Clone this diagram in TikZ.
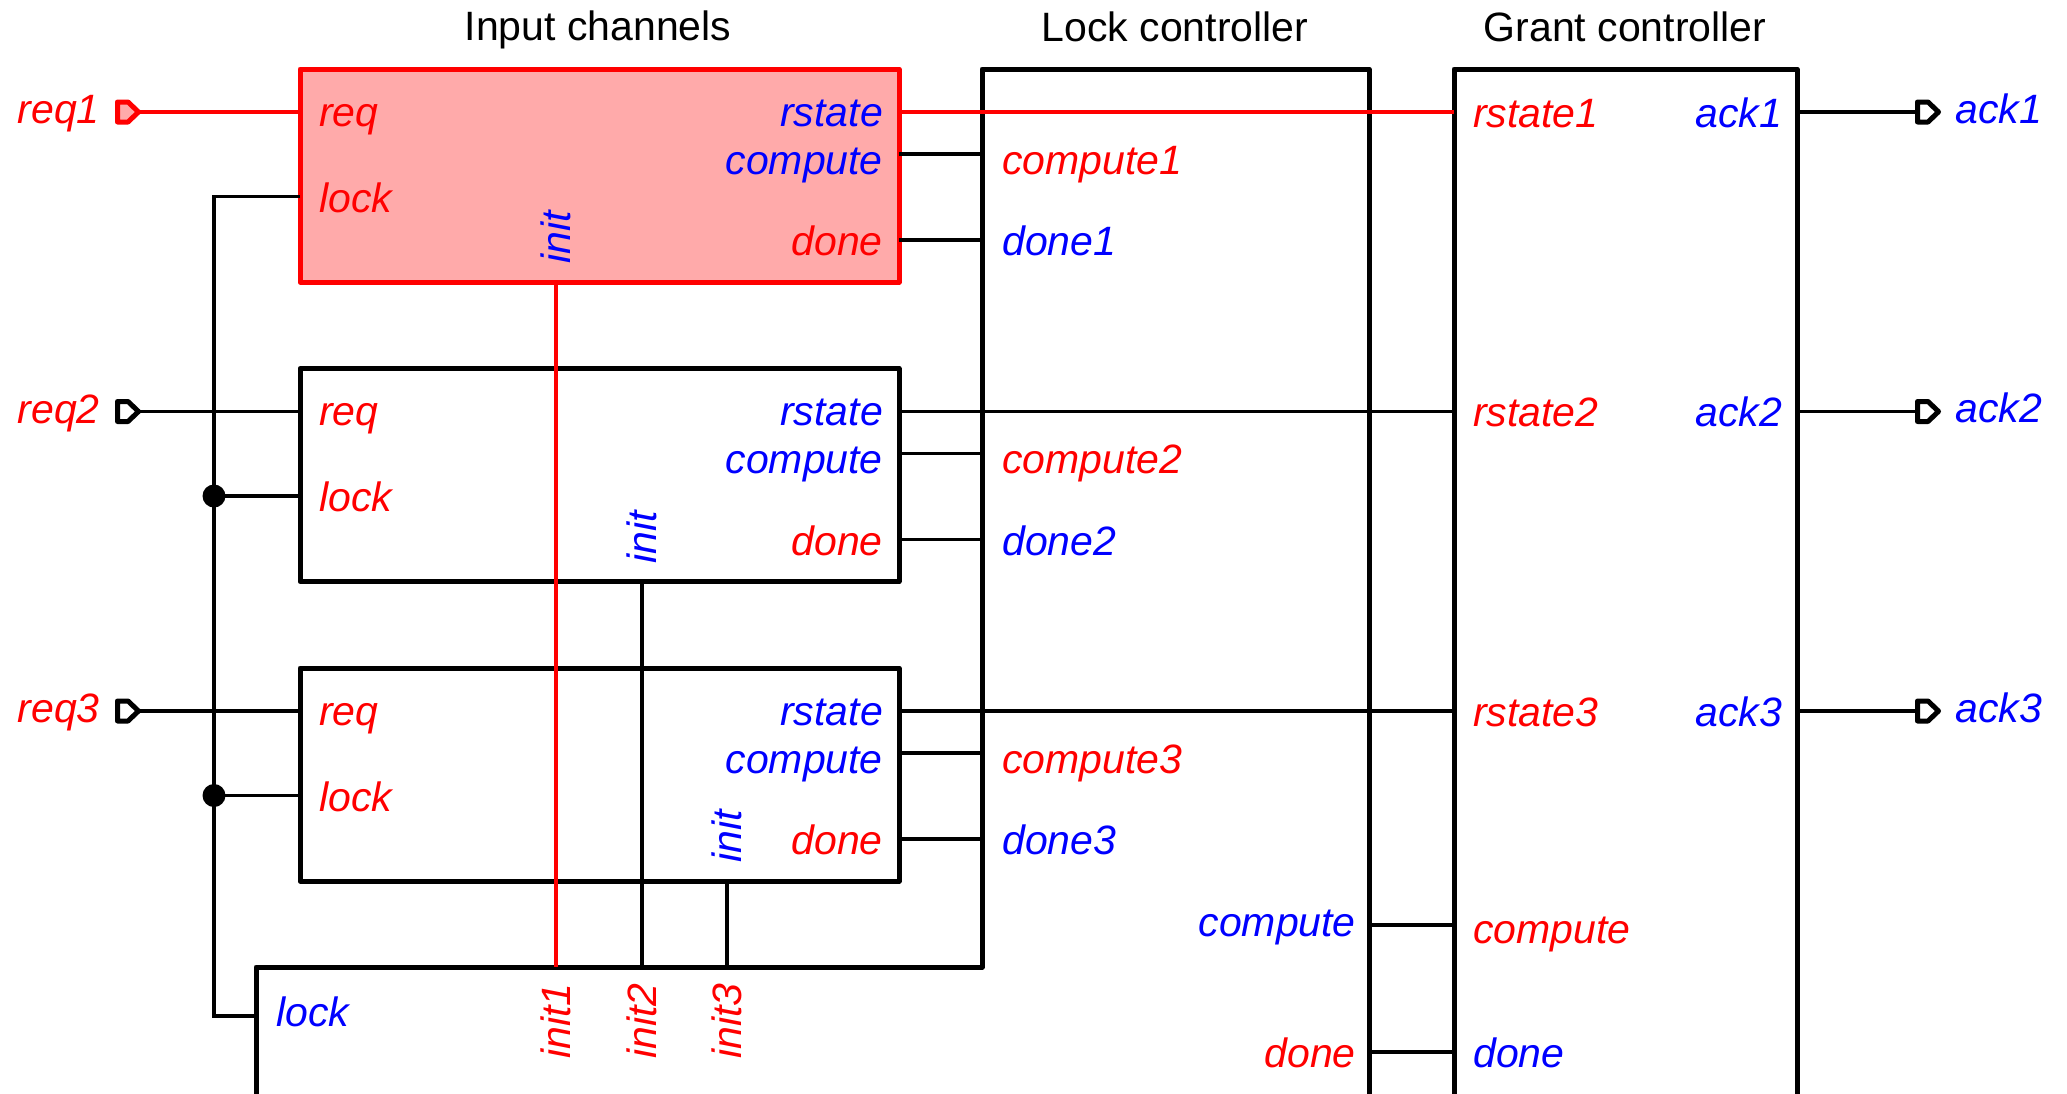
\documentclass[tikz,border=0pt]{standalone}
\usepackage{fontspec}
\setmainfont{Liberation Sans}
\definecolor{sred}{RGB}{255,0,0}
\definecolor{sblue}{RGB}{0,0,255}
\definecolor{spink}{RGB}{255,170,170}
\begin{document}
\begin{tikzpicture}[x=1pt,y=-1pt,
  boxline/.style={line width=5pt, line join=round},
  wire/.style={line width=3.8pt},
  lbl/.style={inner sep=0pt, font=\fontsize{41}{49}\selectfont\itshape},
  rl/.style={lbl, text=sred},
  bl/.style={lbl, text=sblue},
  ttl/.style={inner sep=0pt, font=\fontsize{41}{49}\selectfont, anchor=base},
  portline/.style={line width=5pt, line join=round, draw=black, fill=white},
  jdot/.style={circle, fill=black, inner sep=0pt, minimum size=23pt},
  chbox/.style={boxline, draw, minimum width=599pt, minimum height=213pt, inner sep=0pt}]
\clip (0,0) rectangle (2067,1093);
\fill[white] (0,0) rectangle (2067,1093);

% titles
\node[ttl] (t1) at (598,40) {Input channels};
\node[ttl] (t2) at (1175,41) {Lock controller};
\node[ttl] (t3) at (1625,41) {Grant controller};

% channel boxes
\node[chbox, draw=sred, fill=spink] (ch1) at (599.5,175.5) {};
\node[chbox] (ch2) at (599.5,475) {};
\node[chbox] (ch3) at (599.5,774.5) {};

% lock controller (L-shape) and grant controller
\draw[boxline] (982,967) -- (982,69) -- (1369,69) -- (1369,1150) -- (256,1150) -- (256,967) -- cycle;
\draw[boxline] (1454,1150) -- (1454,69) -- (1797,69) -- (1797,1150);

% coordinates
\coordinate (c1req) at (300,112);   \coordinate (c1lock) at (300,196.5);
\coordinate (c1rs) at (899,112);    \coordinate (c1cp) at (899,154);   \coordinate (c1dn) at (899,240);
\coordinate (c1init) at (556,282);
\coordinate (c2req) at (300,411.5); \coordinate (c2lock) at (300,496);
\coordinate (c2rs) at (899,411.5);  \coordinate (c2cp) at (899,453.5); \coordinate (c2dn) at (899,539.5);
\coordinate (c2init) at (642,581.5);
\coordinate (c3req) at (300,711);   \coordinate (c3lock) at (300,795.5);
\coordinate (c3rs) at (899,711);    \coordinate (c3cp) at (899,753);   \coordinate (c3dn) at (899,839);
\coordinate (c3init) at (727,881);

\coordinate (lc1cp) at (982,154);   \coordinate (lc1dn) at (982,240);
\coordinate (lc2cp) at (982,453.5); \coordinate (lc2dn) at (982,539.5);
\coordinate (lc3cp) at (982,753);   \coordinate (lc3dn) at (982,839);
\coordinate (lci1) at (556,967); \coordinate (lci2) at (642,967); \coordinate (lci3) at (727,967);
\coordinate (lclock) at (256,1016);
\coordinate (lccp) at (1369,925); \coordinate (lcdn) at (1369,1052);

\coordinate (g1) at (1454,112); \coordinate (g2) at (1454,411.5); \coordinate (g3) at (1454,711);
\coordinate (gcp) at (1454,925); \coordinate (gdn) at (1454,1052);
\coordinate (ga1) at (1797,112); \coordinate (ga2) at (1797,411.5); \coordinate (ga3) at (1797,711);

\coordinate (bus1) at (214,196.5); \coordinate (bus2) at (214,496);
\coordinate (bus3) at (214,795.5); \coordinate (busb) at (214,1016);

% ports (west end and tip)
\coordinate (p1) at (117.5,112);   \coordinate (p1t) at (138.5,112);
\coordinate (p2) at (117.5,411.5); \coordinate (p2t) at (138.5,411.5);
\coordinate (p3) at (117.5,711);   \coordinate (p3t) at (138.5,711);
\coordinate (q1) at (1917.5,112);   \coordinate (q1t) at (1938.5,112);
\coordinate (q2) at (1917.5,411.5); \coordinate (q2t) at (1938.5,411.5);
\coordinate (q3) at (1917.5,711);   \coordinate (q3t) at (1938.5,711);

% wires
\draw[wire, sred] (p1t) -- (c1req);
\draw[wire] (p2t) -- (c2req);
\draw[wire] (p3t) -- (c3req);
\draw[wire] (c1lock) -- (bus1) -- (busb) -- (lclock);
\draw[wire] (bus2) -- (c2lock);
\draw[wire] (bus3) -- (c3lock);
\node[jdot] (d2) at (bus2) {};
\node[jdot] (d3) at (bus3) {};

\draw[wire, sred] (c1rs) -- (g1);
\draw[wire] (c2rs) -- (g2);
\draw[wire] (c3rs) -- (g3);
\draw[wire] (c1cp) -- (lc1cp); \draw[wire] (c1dn) -- (lc1dn);
\draw[wire] (c2cp) -- (lc2cp); \draw[wire] (c2dn) -- (lc2dn);
\draw[wire] (c3cp) -- (lc3cp); \draw[wire] (c3dn) -- (lc3dn);
\draw[wire, sred] (c1init) -- (lci1);
\draw[wire] (c2init) -- (lci2);
\draw[wire] (c3init) -- (lci3);
\draw[wire] (lccp) -- (gcp);
\draw[wire] (lcdn) -- (gdn);
\draw[wire] (ga1) -- (q1);
\draw[wire] (ga2) -- (q2);
\draw[wire] (ga3) -- (q3);

% port symbols
\draw[portline, draw=sred, fill=spink] ([shift={(0,-10)}]p1) -- ([shift={(10.5,-10)}]p1) -- (p1t) -- ([shift={(10.5,10)}]p1) -- ([shift={(0,10)}]p1) -- cycle;
\foreach \p in {p2,p3,q1,q2,q3} {
  \draw[portline] ([shift={(0,-10)}]\p) -- ([shift={(10.5,-10)}]\p) -- (\p t) -- ([shift={(10.5,10)}]\p) -- ([shift={(0,10)}]\p) -- cycle;
}

% channel labels
\node[rl, anchor=base west] (l1a) at (319,126) {req};
\node[rl, anchor=base west] (l1b) at (319,212) {lock};
\node[bl, anchor=base east] (l1c) at (883,126) {rstate};
\node[bl, anchor=base east] (l1d) at (883,174) {compute};
\node[rl, anchor=base east] (l1e) at (883,255.5) {done};
\node[bl, rotate=90, anchor=west] (l1f) at (556,264) {init};

\node[rl, anchor=base west] (l2a) at (319,425.5) {req};
\node[rl, anchor=base west] (l2b) at (319,511.5) {lock};
\node[bl, anchor=base east] (l2c) at (883,425.5) {rstate};
\node[bl, anchor=base east] (l2d) at (883,473.5) {compute};
\node[rl, anchor=base east] (l2e) at (883,555) {done};
\node[bl, rotate=90, anchor=west] (l2f) at (642,564) {init};

\node[rl, anchor=base west] (l3a) at (319,725) {req};
\node[rl, anchor=base west] (l3b) at (319,811) {lock};
\node[bl, anchor=base east] (l3c) at (883,725) {rstate};
\node[bl, anchor=base east] (l3d) at (883,773) {compute};
\node[rl, anchor=base east] (l3e) at (883,854.5) {done};
\node[bl, rotate=90, anchor=west] (l3f) at (727,863) {init};

% lock controller labels
\node[rl, anchor=base west] (m1a) at (1002,174) {compute1};
\node[bl, anchor=base west] (m1b) at (1002,255.5) {done1};
\node[rl, anchor=base west] (m2a) at (1002,473.5) {compute2};
\node[bl, anchor=base west] (m2b) at (1002,555) {done2};
\node[rl, anchor=base west] (m3a) at (1002,773) {compute3};
\node[bl, anchor=base west] (m3b) at (1002,854.5) {done3};
\node[bl, anchor=base east] (mcp) at (1356,936) {compute};
\node[rl, anchor=base east] (mdn) at (1356,1067.5) {done};
\node[bl, anchor=base west] (mlk) at (276,1026) {lock};
\node[rl, rotate=90, anchor=east] (mi1) at (556,983) {init1};
\node[rl, rotate=90, anchor=east] (mi2) at (642,983) {init2};
\node[rl, rotate=90, anchor=east] (mi3) at (727,983) {init3};

% grant controller labels
\node[rl, anchor=base west] (g1a) at (1473,127) {rstate1};
\node[bl, anchor=base east] (g1b) at (1782,127) {ack1};
\node[rl, anchor=base west] (g2a) at (1473,426.5) {rstate2};
\node[bl, anchor=base east] (g2b) at (1782,426.5) {ack2};
\node[rl, anchor=base west] (g3a) at (1473,726) {rstate3};
\node[bl, anchor=base east] (g3b) at (1782,726) {ack3};
\node[rl, anchor=base west] (gcpl) at (1473,943) {compute};
\node[bl, anchor=base west] (gdnl) at (1473,1067.5) {done};

% external labels
\node[rl, anchor=base east] (r1) at (100,123.5) {req1};
\node[rl, anchor=base east] (r2) at (100,423) {req2};
\node[rl, anchor=base east] (r3) at (100,722.5) {req3};
\node[bl, anchor=base west] (a1) at (1955,123) {ack1};
\node[bl, anchor=base west] (a2) at (1955,422.5) {ack2};
\node[bl, anchor=base west] (a3) at (1955,722) {ack3};
\end{tikzpicture}
\end{document}
